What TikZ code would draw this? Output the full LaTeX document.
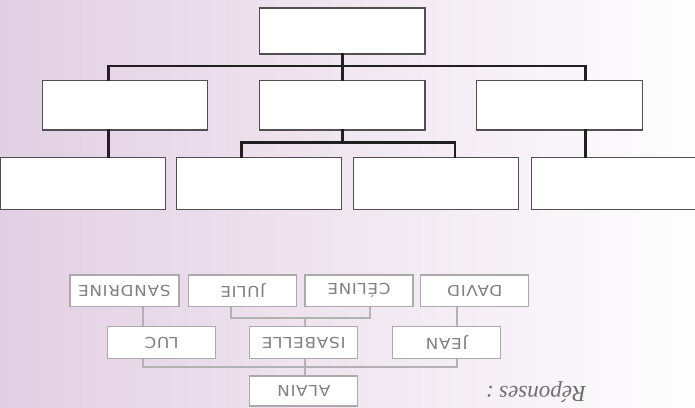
\documentclass[tikz,border=0pt]{standalone}
\usepackage{graphicx}
\usepackage{fontspec}
\setmainfont{Liberation Serif}
\newfontfamily\boxfont[LetterSpace=4]{DejaVu Sans}
\newcommand\anslabel[1]{\scalebox{1.12}[1]{#1}}
\definecolor{bgL}{RGB}{226,207,227}
\definecolor{bgR}{RGB}{254,254,254}
\definecolor{topline}{RGB}{35,31,32}
\definecolor{topbox}{RGB}{80,80,80}
\definecolor{ansbox}{RGB}{170,170,170}
\definecolor{ansline}{RGB}{178,178,178}
\definecolor{anstext}{RGB}{128,128,128}
\definecolor{reptext}{RGB}{110,110,110}
\tikzset{
  emptybox/.style={draw=topbox, line width=1.3pt, fill=white, inner sep=0pt},
  lvlone/.style={emptybox, minimum width=165.6pt, minimum height=46pt},
  lvltwo/.style={emptybox, minimum width=165.4pt, minimum height=49.3pt},
  lvlthree/.style={emptybox, minimum width=165.2pt, minimum height=51.6pt},
  topconn/.style={draw=topline, line width=2.6pt, line cap=rect},
  ansnode/.style={draw=ansbox, line width=1.2pt, fill=white, inner sep=0pt,
    minimum width=108pt, minimum height=31.6pt, rotate=180,
    font=\boxfont\fontsize{15}{16}\selectfont, text=anstext},
  ansconn/.style={draw=ansline, line width=2pt}
}
\begin{document}
\begin{tikzpicture}[x=1pt,y=-1pt]
\useasboundingbox (0,0) rectangle (695,407);
\shade[left color=bgL, right color=bgR] (0,0) rectangle (695,407);

% ---------- empty tree ----------
\node[lvlone] (root) at (342.2,31) {};
\node[lvltwo] (A) at (125,105.3) {};
\node[lvltwo] (B) at (342.2,105.3) {};
\node[lvltwo] (C) at (559.5,105.3) {};
\node[lvlthree] (D) at (82.8,183.5) {};
\node[lvlthree] (E) at (259,183.5) {};
\node[lvlthree] (F) at (436.2,183.5) {};
\node[lvlthree] (G) at (614.2,183.5) {};

\coordinate (jA) at (108.7,66);
\coordinate (jC) at (585.7,66);
\coordinate (jE) at (241.7,142.7);
\coordinate (jF) at (455,142.7);

\draw[topconn] (root.south) -- (B.north);
\draw[topconn] (A.north -| jA) -- (jA) -- (jC) -- (C.north -| jC);
\draw[topconn] (A.south -| jA) -- (D.north -| jA);
\draw[topconn] (C.south -| jC) -- (G.north -| jC);
\draw[topconn] (B.south) -- (B.south |- jF);
\draw[topconn] (E.north -| jE) -- (jE) -- (jF) -- (F.north -| jF);

% ---------- answers (upside down) ----------
\node[ansnode, minimum width=109pt] (sandrine) at (124.5,290.8) {\anslabel{SANDRINE}};
\node[ansnode] (julie) at (242.8,290.8) {\anslabel{JULIE}};
\node[ansnode] (celine) at (359,290.8) {\anslabel{CÉLINE}};
\node[ansnode] (david) at (474.8,290.8) {\anslabel{DAVID}};
\node[ansnode] (luc) at (161.7,342.5) {\anslabel{LUC}};
\node[ansnode] (isabelle) at (303.8,342.5) {\anslabel{ISABELLE}};
\node[ansnode] (jean) at (446.7,342.5) {\anslabel{JEAN}};
\node[ansnode, minimum height=30pt] (alain) at (303.8,391) {\anslabel{ALAIN}};

\coordinate (kL) at (143.3,367.3);
\coordinate (kJ) at (456.7,367.3);
\coordinate (kJu) at (230.7,318.3);
\coordinate (kCe) at (370,318.3);
\coordinate (kI) at (305,318.3);

\draw[ansconn] (sandrine.north -| kL) -- (luc.south -| kL);
\draw[ansconn] (david.north -| kJ) -- (jean.south -| kJ);
\draw[ansconn] (julie.north -| kJu) -- (kJu) -- (kCe) -- (celine.north -| kCe);
\draw[ansconn] (kI) -- (isabelle.south -| kI);
\draw[ansconn] (luc.north -| kL) -- (kL) -- (kJ) -- (jean.north -| kJ);
\draw[ansconn] (isabelle.north -| kI) -- (alain.south -| kI);

\node[rotate=180, text=reptext, font=\itshape\fontsize{23}{25}\selectfont, inner sep=0pt] (rep) at (536,392) {Réponses :};
\end{tikzpicture}
\end{document}
